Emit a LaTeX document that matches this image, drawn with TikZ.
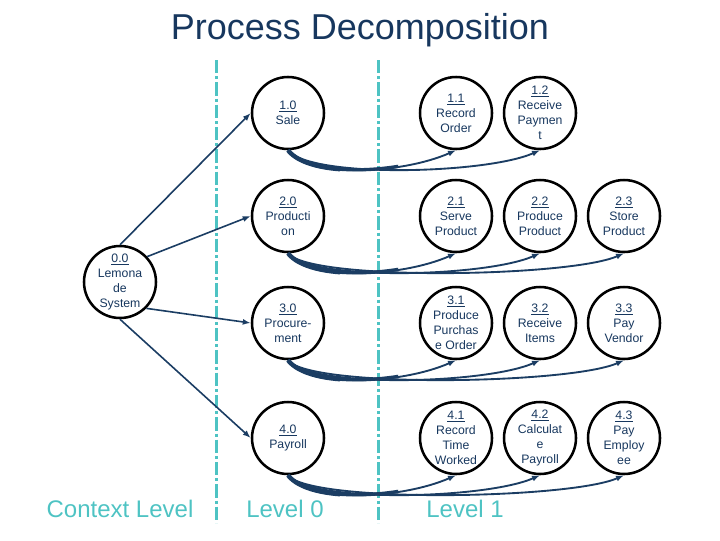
\documentclass[tikz,border=0pt]{standalone}
\usepackage{fontspec}
\setmainfont{Liberation Sans}
\usetikzlibrary{arrows.meta,calc}
\definecolor{navy}{HTML}{17375E}
\definecolor{arrowc}{HTML}{1B3D63}
\definecolor{cyanl}{HTML}{4EC3C3}
\begin{document}
\begin{tikzpicture}[x=0.75pt,y=-0.75pt,
  proc/.style={circle,draw=black,line width=1.9pt,minimum size=54pt,inner sep=0pt},
  ptext/.style={align=center,inner sep=0pt,text=navy,font=\fontsize{9.2pt}{11.25pt}\selectfont},
  feed/.style={draw=arrowc,line width=1.2pt,-{Latex[length=6pt,width=4.5pt]}},
  flow/.style={draw=arrowc,line width=1.4pt,-{Latex[length=6pt,width=4.5pt]}},
  trunk/.style={draw=arrowc,line width=#1},
  divider/.style={draw=cyanl,line width=2.25pt,dash pattern=on 10pt off 2.25pt on 2.25pt off 2.25pt},
  level/.style={text=cyanl,anchor=base,font=\fontsize{18pt}{20pt}\selectfont}]
\useasboundingbox (0,0) rectangle (720,540);

% title
\node[anchor=base,text=navy,font=\fontsize{27pt}{30pt}\selectfont] (title) at (360,39) {Process Decomposition};

% dividers
\draw[divider] (216,60) -- (216,523);
\draw[divider] (378,60) -- (378,523);

% level labels
\node[level] (lctx) at (120,517) {Context Level};
\node[level] (l0) at (285,517) {Level 0};
\node[level] (l1) at (465,517) {Level 1};

% processes
\node[proc,label={[ptext]center:{\underline{0.0}\\Lemona\\de\\System}}] (n00) at (120,282) {};
\node[proc,label={[ptext]center:{\underline{1.0}\\Sale}}] (n10) at (288,113) {};
\node[proc,label={[ptext]center:{\underline{2.0}\\Producti\\on}}] (n20) at (288,216) {};
\node[proc,label={[ptext]center:{\underline{3.0}\\Procure-\\ment}}] (n30) at (288,323) {};
\node[proc,label={[ptext]center:{\underline{4.0}\\Payroll}}] (n40) at (288,438) {};

\node[proc,label={[ptext]center:{\underline{1.1}\\Record\\Order}}] (n11) at (456,113) {};
\node[proc,label={[ptext]center:{\underline{1.2}\\Receive\\Paymen\\t}}] (n12) at (540,113) {};

\node[proc,label={[ptext]center:{\underline{2.1}\\Serve\\Product}}] (n21) at (456,216) {};
\node[proc,label={[ptext]center:{\underline{2.2}\\Produce\\Product}}] (n22) at (540,216) {};
\node[proc,label={[ptext]center:{\underline{2.3}\\Store\\Product}}] (n23) at (624,216) {};

\node[proc,label={[ptext]center:{\underline{3.1}\\Produce\\Purchas\\e Order}}] (n31) at (456,323) {};
\node[proc,label={[ptext]center:{\underline{3.2}\\Receive\\Items}}] (n32) at (540,323) {};
\node[proc,label={[ptext]center:{\underline{3.3}\\Pay\\Vendor}}] (n33) at (624,323) {};

\node[proc,label={[ptext]center:{\underline{4.1}\\Record\\Time\\Worked}}] (n41) at (456,438) {};
\node[proc,label={[ptext]center:{\underline{4.2}\\Calculat\\e\\Payroll}}] (n42) at (540,438) {};
\node[proc,label={[ptext]center:{\underline{4.3}\\Pay\\Employ\\ee}}] (n43) at (624,438) {};

% context to level 0
\draw[feed] (n00.north) -- (n10.west);
\draw[feed] (n00.43) -- (n20.west);
\draw[feed] (n00.-45) -- (n30.west);
\draw[feed] (n00.south) -- (n40.west);

% tapered trunks
\begin{scope}
  \clip (280,0) rectangle (340,540);
  \foreach \s/\t in {n10/n11,n20/n21,n30/n31,n40/n41}
    \draw[trunk=3.3pt] (\s.south) .. controls ($(\s.south)+(22,28)$) and ($(\t.south)+(-55,24)$) .. (\t.south);
\end{scope}
\begin{scope}
  \clip (280,0) rectangle (398,540);
  \foreach \s/\t in {n10/n11,n20/n21,n30/n31,n40/n41}
    \draw[trunk=2.5pt] (\s.south) .. controls ($(\s.south)+(22,28)$) and ($(\t.south)+(-55,24)$) .. (\t.south);
\end{scope}

% level 0 to level 1
\foreach \s/\t in {n10/n11,n10/n12,n20/n21,n20/n22,n20/n23,n30/n31,n30/n32,n30/n33,n40/n41,n40/n42,n40/n43}
  \draw[flow] (\s.south) .. controls ($(\s.south)+(22,28)$) and ($(\t.south)+(-55,24)$) .. (\t.south);
\end{tikzpicture}
\end{document}
